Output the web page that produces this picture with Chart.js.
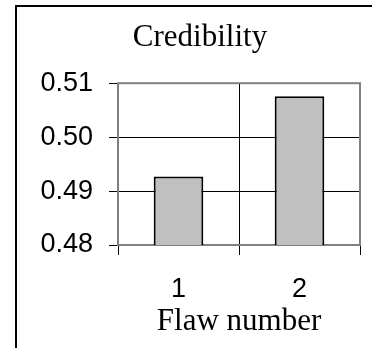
<!DOCTYPE html>
<html>
<head>
<meta charset="utf-8">
<script src="https://cdn.jsdelivr.net/npm/chart.js@4/dist/chart.umd.min.js"></script>
<style>
  html, body { margin: 0; padding: 0; background: #fff; overflow: hidden; width: 372px; height: 348px; }
  #frame { position: absolute; left: 15px; top: 5px; width: 400px; height: 400px; border: 2px solid #000; }
  #chart { position: absolute; left: 16px; top: 6px; }
</style>
</head>
<body>
<div id="frame"></div>
<canvas id="chart" width="368" height="342"></canvas>
<script>
// data
var categories = ['1', '2'];
var credibility = [0.4927, 0.5076];
var yTicks = [0.48, 0.49, 0.50, 0.51];

var grey = '#808080';

// grey frame round the plot area
var plotFrame = {
    id: 'plotFrame',
    beforeDatasetsDraw: function (chart) {
        var a = chart.chartArea, ctx = chart.ctx;
        ctx.save();
        ctx.strokeStyle = grey;
        ctx.lineWidth = 2;
        ctx.strokeRect(a.left, a.top, a.right - a.left, a.bottom - a.top);
        ctx.restore();
    }
};

var myChart = new Chart(document.getElementById('chart'), {
    type: 'bar',
    data: {
        labels: categories,
        datasets: [{
            data: credibility,
            backgroundColor: '#c0c0c0',
            borderColor: '#000',
            borderWidth: 2,
            categoryPercentage: 1,
            barPercentage: 0.41
        }]
    },
    options: {
        responsive: false,
        animation: false,
        layout: { padding: { left: 24, right: 24, top: 0, bottom: 0 } },
        plugins: {
            legend: { display: false },
            tooltip: { enabled: false },
            title: {
                display: true,
                text: 'Credibility',
                color: '#000',
                font: { family: 'Liberation Serif', size: 31, weight: 'normal' },
                padding: { top: 13, bottom: 27 }
            }
        },
        scales: {
            x: {
                grid: {
                    offset: true,
                    color: function (c) { return c.index === 1 ? '#000' : grey; },
                    tickColor: '#000',
                    tickLength: 10,
                    lineWidth: 1
                },
                border: { color: '#000', width: 1 },
                ticks: {
                    color: '#000',
                    padding: 18,
                    font: { family: 'Liberation Sans', size: 27 }
                },
                title: {
                    display: true,
                    text: 'Flaw number',
                    color: '#000',
                    font: { family: 'Liberation Serif', size: 31 },
                    padding: { top: 0, bottom: 8 }
                },
                afterFit: function (s) { s.height = 103; }
            },
            y: {
                min: yTicks[0],
                max: yTicks[yTicks.length - 1],
                afterBuildTicks: function (s) {
                    s.ticks = yTicks.map(function (v) { return { value: v }; });
                },
                grid: {
                    color: function (c) { return c.index === yTicks.length - 1 ? grey : '#000'; },
                    tickColor: '#000',
                    tickLength: 9,
                    lineWidth: 1
                },
                border: { color: grey, width: 1 },
                ticks: {
                    color: '#000',
                    padding: 16,
                    font: { family: 'Liberation Sans', size: 27 },
                    callback: function (v) { return Number(v).toFixed(2); }
                },
                afterFit: function (s) { s.width = 78; }
            }
        }
    },
    plugins: [plotFrame]
});
</script>
</body>
</html>
